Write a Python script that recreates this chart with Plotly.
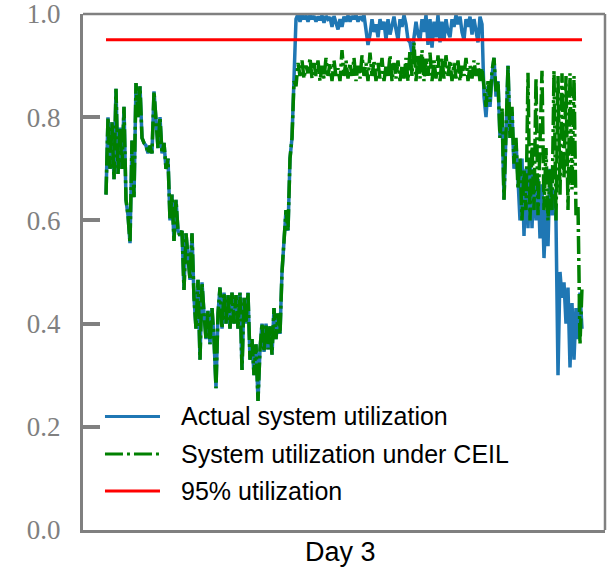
import plotly.graph_objects as go

# Utilization samples (fraction of capacity), one every few minutes over the day.
# Both series coincide until the busy period starts.
shared_util = [
    0.65, 0.80, 0.70, 0.79, 0.68, 0.855, 0.69, 0.78, 0.70, 0.82,
    0.64, 0.61, 0.556, 0.755, 0.645, 0.866, 0.80, 0.86, 0.76, 0.75,
    0.745, 0.73, 0.745, 0.73, 0.85, 0.80, 0.74, 0.80, 0.73, 0.75,
    0.70, 0.72, 0.60, 0.65, 0.56, 0.64, 0.58, 0.57, 0.58, 0.465,
    0.575, 0.53, 0.485, 0.575, 0.45, 0.39, 0.485, 0.33, 0.48, 0.42,
    0.37, 0.425, 0.36, 0.43, 0.37, 0.275, 0.42, 0.47, 0.39, 0.46,
    0.40, 0.455, 0.39, 0.46, 0.40, 0.455, 0.39, 0.46, 0.31, 0.45,
    0.40, 0.46, 0.33, 0.37, 0.30, 0.36, 0.25, 0.35, 0.40, 0.345,
    0.40, 0.35, 0.395, 0.34, 0.43, 0.37, 0.42, 0.38, 0.50, 0.56,
    0.62, 0.58, 0.72, 0.76, 0.87,
]

# Busy period: actual load saturates, CEIL keeps it below the threshold.
actual_peak = [
    0.99, 1.0, 0.985, 0.998, 0.99, 0.997, 0.985, 0.998, 0.99, 0.996,
    0.985, 0.995, 0.988, 0.997, 0.983, 0.996, 0.99, 0.994, 0.975, 0.996,
    0.985, 0.97, 0.99, 0.975, 0.995, 0.985, 0.997, 0.985, 0.996, 0.99,
    0.998, 0.985, 0.995, 0.99, 0.998, 0.965, 0.94, 0.96, 0.99, 0.965,
    0.98, 0.955, 0.99, 0.97, 0.985, 0.95, 0.99, 0.96, 0.975, 0.995,
    0.97, 0.95, 0.99, 0.975, 0.998, 0.98, 0.95, 0.945, 0.925, 0.95,
    0.985, 0.96, 0.95, 0.99, 0.965, 0.998, 0.94, 0.99, 0.935, 0.985,
    0.955, 0.998, 0.945, 0.985, 0.95, 0.99, 0.965, 0.955, 0.99, 0.975,
    0.998, 0.98, 0.995, 0.965, 0.95, 0.99, 0.975, 0.995, 0.96, 0.99,
    0.965, 0.945, 0.995, 0.98, 0.84,
]
ceil_peak = [
    0.86, 0.905, 0.88, 0.91, 0.875, 0.90, 0.885, 0.915, 0.875, 0.905,
    0.88, 0.91, 0.87, 0.90, 0.875, 0.915, 0.88, 0.905, 0.87, 0.91,
    0.88, 0.895, 0.87, 0.93, 0.88, 0.91, 0.875, 0.905, 0.88, 0.915,
    0.87, 0.90, 0.875, 0.92, 0.88, 0.905, 0.87, 0.925, 0.88, 0.91,
    0.87, 0.905, 0.875, 0.915, 0.87, 0.90, 0.88, 0.92, 0.87, 0.905,
    0.875, 0.91, 0.87, 0.90, 0.875, 0.915, 0.87, 0.93, 0.88, 0.945,
    0.87, 0.92, 0.875, 0.93, 0.87, 0.915, 0.88, 0.925, 0.87, 0.91,
    0.875, 0.92, 0.87, 0.915, 0.875, 0.92, 0.88, 0.91, 0.87, 0.905,
    0.875, 0.91, 0.87, 0.90, 0.88, 0.915, 0.87, 0.90, 0.875, 0.91,
    0.88, 0.905, 0.87, 0.895, 0.86,
]

# Evening ramp-down.
actual_tail = [
    0.80, 0.86, 0.82, 0.88, 0.915, 0.84, 0.87, 0.76, 0.81, 0.64,
    0.78, 0.90, 0.76, 0.81, 0.70, 0.75, 0.68, 0.60, 0.72, 0.57,
    0.70, 0.585, 0.72, 0.585, 0.70, 0.60, 0.68, 0.565, 0.67, 0.527,
    0.62, 0.55, 0.70, 0.61, 0.66, 0.60, 0.30, 0.50, 0.45, 0.48,
    0.40, 0.47, 0.315, 0.44, 0.33, 0.43, 0.37, 0.46, 0.39,
]
ceil_tail = [
    0.82, 0.87, 0.83, 0.89, 0.915, 0.85, 0.87, 0.76, 0.82, 0.64,
    0.80, 0.90, 0.76, 0.82, 0.71, 0.76, 0.66, 0.72, 0.60, 0.70,
    0.62, 0.886, 0.60, 0.75, 0.62, 0.876, 0.61, 0.73, 0.89, 0.62,
    0.74, 0.60, 0.70, 0.62, 0.89, 0.60, 0.88, 0.65, 0.885, 0.68,
    0.88, 0.62, 0.885, 0.66, 0.88, 0.61, 0.63, 0.36, 0.47,
]

threshold = 0.95
y_ticks = [0.0, 0.2, 0.4, 0.6, 0.8, 1.0]
y_tick_text = ["0.0", "0.2", "0.4", "0.6", "0.8", "1.0"]
day_label = "Day 3"
legend_labels = ["Actual system utilization",
                 "System utilization under CEIL",
                 "95% utilization"]

actual = shared_util + actual_peak + actual_tail
ceil = shared_util + ceil_peak + ceil_tail
t = list(range(len(actual)))

BLUE = "#1f77b4"
GREEN = "#008000"
RED = "#ff0000"
GRAY = "#808080"
DASHDOT = "18px,4px,3px,4px"

fig = go.Figure()
fig.add_trace(go.Scatter(x=t, y=actual, mode="lines",
                         line=dict(color=BLUE, width=3.5), name=legend_labels[0]))
fig.add_trace(go.Scatter(x=t, y=ceil, mode="lines",
                         line=dict(color=GREEN, width=3.5, dash=DASHDOT),
                         name=legend_labels[1]))
fig.add_trace(go.Scatter(x=[t[0], t[-1]], y=[threshold, threshold], mode="lines",
                         line=dict(color=RED, width=3), name=legend_labels[2]))

# leave some empty space on both sides of the data
n = len(t) - 1
x_lo = -n * 23.0 / 476.0
x_hi = n + n * 23.0 / 476.0

fig.update_layout(
    width=608, height=570,
    margin=dict(l=83, r=3, t=14, b=40, autoexpand=False),
    plot_bgcolor="white", paper_bgcolor="white",
    showlegend=False,
    xaxis=dict(range=[x_lo, x_hi], showticklabels=False, ticks="",
               showgrid=False, zeroline=False, automargin=False,
               showline=True, linecolor=GRAY, linewidth=3),
    yaxis=dict(range=[0, 1], tickvals=y_ticks, ticktext=y_tick_text,
               ticks="inside", ticklen=17, tickwidth=4, tickcolor=GRAY,
               showgrid=False, zeroline=False, automargin=False,
               showline=True, linecolor=GRAY, linewidth=3,
               tickfont=dict(family="Liberation Serif", size=27, color=GRAY),
               ticklabelstandoff=14, ticklabeloverflow="allow"),
)

# top and right frame edges
fig.add_shape(type="line", xref="paper", yref="paper", x0=0, x1=1, y0=1, y1=1,
              line=dict(color=GRAY, width=2.5))
fig.add_shape(type="line", xref="paper", yref="paper", x0=1, x1=1, y0=0, y1=1,
              line=dict(color=GRAY, width=2.5))

# legend drawn inside the lower-left corner of the axes
legend_rows = [(0.22, BLUE, None), (0.1473, GREEN, DASHDOT), (0.0756, RED, None)]
for (yy, col, dash), label in zip(legend_rows, legend_labels):
    ln = dict(color=col, width=3)
    if dash:
        ln["dash"] = dash
    fig.add_shape(type="line", xref="paper", yref="paper",
                  x0=0.0421, x1=0.1475, y0=yy, y1=yy, line=ln)
    fig.add_annotation(xref="paper", yref="paper", x=0.1839, y=yy,
                       xanchor="left", yanchor="middle", showarrow=False,
                       text=label, font=dict(family="Liberation Sans", size=25, color="black"))

fig.add_annotation(xref="paper", yref="paper", x=0.494, y=-0.0426,
                   xanchor="center", yanchor="middle", showarrow=False,
                   text=day_label, font=dict(family="Liberation Sans", size=27, color="black"))

fig.write_html("out.html")
